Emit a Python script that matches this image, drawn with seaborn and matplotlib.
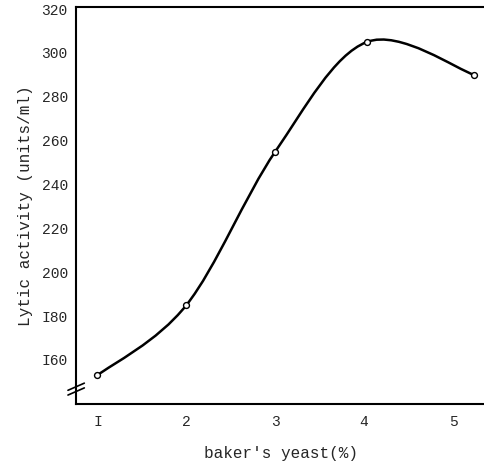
import numpy as np
import seaborn as sns
import matplotlib.pyplot as plt
from matplotlib.path import Path
from matplotlib.patches import PathPatch

# values
yeast_pct = [1.0, 2.0, 3.0, 4.03, 5.24]
lytic_activity = [153, 185, 255, 305, 290]
x_ticks = [1, 2, 3, 4, 5]
x_tick_labels = ["I", "2", "3", "4", "5"]
y_ticks = [160, 180, 200, 220, 240, 260, 280, 300, 320]
y_tick_labels = ["I60", "I80", "200", "220", "240", "260", "280", "300", "320"]


def smooth_path(xs, ys):
    # Catmull-Rom tangents turned into cubic Bezier segments, drawn by matplotlib
    xs = np.asarray(xs, float)
    ys = np.asarray(ys, float)
    n = len(xs)
    verts = [(xs[0], ys[0])]
    codes = [Path.MOVETO]
    for i in range(n - 1):
        i0 = max(i - 1, 0)
        i3 = min(i + 2, n - 1)
        c1 = (xs[i] + (xs[i + 1] - xs[i0]) / 6, ys[i] + (ys[i + 1] - ys[i0]) / 6)
        c2 = (xs[i + 1] - (xs[i3] - xs[i]) / 6, ys[i + 1] - (ys[i3] - ys[i]) / 6)
        verts += [c1, c2, (xs[i + 1], ys[i + 1])]
        codes += [Path.CURVE4] * 3
    return Path(verts, codes)


sns.set_theme(style="white")
plt.rcParams['font.family'] = ['Liberation Mono', 'DejaVu Sans Mono']

fig = plt.figure(figsize=(4.85, 4.62), dpi=100)
ax = fig.add_axes([0.157, 0.126, 0.843, 0.859])

ax.add_patch(PathPatch(smooth_path(yeast_pct, lytic_activity), facecolor='none',
                       edgecolor='black', lw=1.8, zorder=2))
sns.scatterplot(x=yeast_pct, y=lytic_activity, ax=ax, marker='o', s=18,
                facecolor='white', edgecolor='black', linewidth=1.0, zorder=3)

ax.set_xlim(0.76, 5.36)
ax.set_ylim(140, 321)
ax.set_xticks(x_ticks)
ax.set_xticklabels(x_tick_labels, fontsize=10.5)
ax.set_yticks(y_ticks)
ax.set_yticklabels(y_tick_labels, fontsize=10.5)
ax.tick_params(axis='y', direction='out', length=4, width=1.2, color='black', pad=2)
ax.tick_params(axis='x', direction='in', length=4, width=1.2, color='black', pad=8)

for side in ['left', 'bottom', 'top']:
    ax.spines[side].set_color('black')
    ax.spines[side].set_linewidth(1.5)
ax.spines['right'].set_visible(False)

# axis break marks on the left spine
for dy in (0.0, 0.012):
    ax.plot([-0.02, 0.02], [0.022 + dy, 0.04 + dy], transform=ax.transAxes,
            color='black', lw=1.2, clip_on=False)

ax.set_xlabel("baker's yeast(%)", fontsize=11.5, labelpad=12)
ax.set_ylabel("Lytic activity (units/ml)", fontsize=11.5, labelpad=6)

fig.savefig("out.png", dpi=100, facecolor='white')
